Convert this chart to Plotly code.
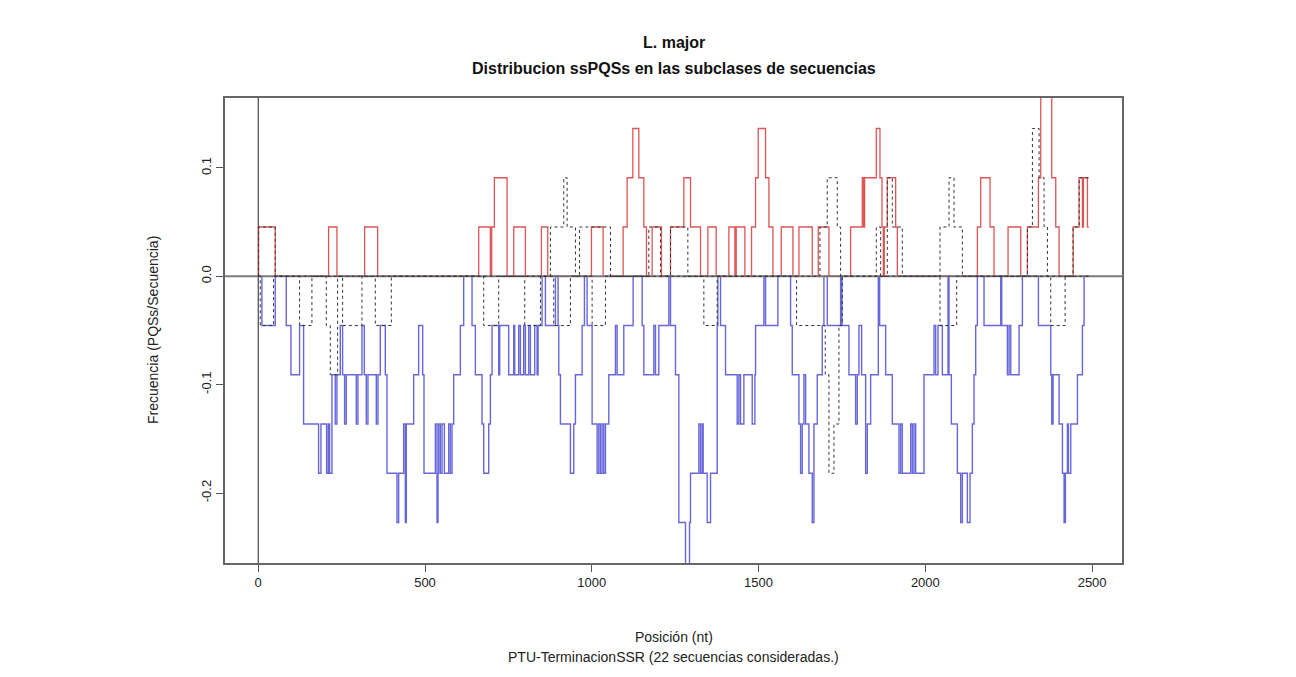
import plotly.graph_objects as go

N_SEQ = 22
X_END = 2490
# step breakpoints: (position nt, number of PQSs)
red_steps = [(0,0),(1,1),(51,0),(211,1),(236,0),(319,1),(358,0),(661,1),(696,0),(700,1),(708,2),(746,0),
             (766,1),(801,0),(849,1),(868,0),(999,1),(1034,0),(1094,1),(1106,2),(1123,3),(1141,2),(1156,1),
             (1164,0),(1181,1),(1209,0),(1236,1),(1276,2),(1296,1),(1326,0),(1348,1),(1373,0),(1411,1),
             (1429,0),(1433,1),(1459,0),(1479,1),(1491,2),(1499,3),(1521,2),(1531,1),(1543,0),(1568,1),
             (1603,0),(1621,1),(1661,0),(1679,1),(1711,0),(1776,1),(1811,2),(1815,1),(1818,2),(1853,3),
             (1864,2),(1870,1),(1874,0),(1877,1),(1886,2),(1911,1),(1916,0),(2156,1),(2166,2),(2194,1),
             (2206,0),(2248,1),(2286,0),(2306,1),(2339,2),(2346,4),(2379,2),(2391,1),(2401,0),(2443,1),
             (2461,2),(2471,1),(2474,2),(2486,1)]

blue_steps = [(0,0),(11,1),(51,0),(84,1),(98,2),(124,1),(136,3),(181,4),(188,3),(205,4),(210,3),(214,4),
              (221,2),(231,3),(236,2),(246,1),(253,2),(259,3),(264,2),(294,3),(299,2),(311,1),(318,2),
              (324,3),(329,2),(354,3),(359,2),(366,1),(381,2),(386,4),(416,5),(421,4),(436,3),(441,5),
              (444,3),(466,2),(481,1),(493,2),(497,4),(531,3),(536,5),(539,4),(541,3),(546,4),(551,3),
              (558,4),(571,3),(576,4),(581,3),(586,2),(606,1),(616,0),(641,1),(651,2),(671,3),(676,4),
              (691,3),(696,2),(701,1),(721,2),(724,1),(751,2),(766,1),(769,2),(781,1),(786,2),(796,1),
              (801,2),(811,1),(816,2),(829,1),(836,2),(839,1),(851,0),(861,1),(891,0),(899,1),(901,2),
              (906,3),(936,4),(946,3),(951,2),(971,1),(978,0),(986,1),(1001,3),(1016,4),(1021,3),(1026,4),
              (1031,3),(1036,4),(1041,3),(1051,2),(1071,1),(1076,2),(1096,1),(1124,0),(1151,1),(1156,2),
              (1186,1),(1191,2),(1201,1),(1231,0),(1236,1),(1251,2),(1261,5),(1281,6),(1293,5),(1296,4),
              (1321,3),(1326,4),(1331,3),(1334,4),(1346,5),(1356,4),(1376,1),(1378,0),(1386,1),(1401,2),
              (1436,3),(1441,2),(1446,3),(1456,2),(1481,3),(1489,2),(1491,1),(1516,0),(1521,1),(1558,0),
              (1596,1),(1601,2),(1621,3),(1626,4),(1631,3),(1636,2),(1641,3),(1651,4),(1661,5),(1666,3),
              (1676,2),(1691,1),(1696,0),(1706,1),(1746,0),(1750,1),(1771,2),(1791,3),(1796,2),(1801,1),
              (1809,2),(1821,4),(1826,3),(1836,2),(1859,0),(1863,1),(1881,2),(1901,3),(1921,4),(1926,3),
              (1931,4),(1956,3),(1961,4),(1966,3),(1971,4),(1996,2),(2026,1),(2031,2),(2038,1),(2051,2),
              (2068,0),(2071,2),(2078,3),(2096,4),(2106,5),(2111,4),(2126,5),(2134,4),(2141,3),(2146,2),
              (2151,1),(2156,0),(2176,1),(2226,0),(2229,1),(2246,2),(2251,1),(2256,2),(2281,1),(2291,0),
              (2339,1),(2376,2),(2379,3),(2383,2),(2401,3),(2411,4),(2416,5),(2420,4),(2426,3),(2429,4),
              (2436,3),(2456,2),(2471,1),(2476,0)]

dot_pos_steps = [(0,0),(1,1),(51,0),(876,1),(916,2),(926,1),(951,0),(963,1),(1056,0),(1171,1),(1206,0),
                 (1236,1),(1288,0),(1684,1),(1706,2),(1736,1),(1746,0),(1853,1),(1866,0),(1886,2),(1901,1),
                 (1931,0),(2044,1),(2071,2),(2086,1),(2111,0),(2306,1),(2321,3),(2341,2),(2356,1),(2366,0),
                 (2443,1),(2461,2)]

dot_neg_steps = [(0,0),(6,1),(46,0),(124,1),(161,0),(204,1),(216,2),(238,0),(253,1),(311,0),(351,1),(399,0),
                 (676,1),(721,0),(799,1),(846,0),(886,1),(936,0),(1001,1),(1041,0),(1336,1),(1376,0),
                 (1614,1),(1700,2),(1711,4),(1726,3),(1741,1),(1751,0),(2044,1),(2094,0),(2376,1),(2419,0)]

x_ticks = [0, 500, 1000, 1500, 2000, 2500]
y_ticks = [-0.2, -0.1, 0.0, 0.1]
y_tick_text = ["-0.2", "-0.1", "0.0", "0.1"]

W, H = 1296, 677
L, R, T, B = 225, 174, 98, 114
pad = 0.04 * X_END
x_range = [-pad, X_END + pad]
y_range = [-0.2646, 0.1645]


def series(steps, sign):
    xs = [s[0] for s in steps] + [X_END]
    ys = [sign * s[1] / N_SEQ for s in steps]
    ys.append(ys[-1])
    return xs, ys


fig = go.Figure()
for steps, sign, color, width in [
    (red_steps, 1, "rgba(215,55,55,0.85)", 1.3),
    (blue_steps, -1, "rgba(45,45,205,0.72)", 1.4),
]:
    xs, ys = series(steps, sign)
    fig.add_trace(go.Scatter(x=xs, y=ys, mode="lines", line=dict(color=color, width=width, shape="hv"),
                             hoverinfo="skip", showlegend=False))

# horizontal reference at zero
fig.add_trace(go.Scatter(x=x_range, y=[0, 0], mode="lines", line=dict(color="rgba(110,110,110,0.9)", width=2),
                         hoverinfo="skip", showlegend=False))

for steps, sign in [(dot_pos_steps, 1), (dot_neg_steps, -1)]:
    xs, ys = series(steps, sign)
    fig.add_trace(go.Scatter(x=xs, y=ys, mode="lines", line=dict(color="#333", width=1, dash="dot", shape="hv"),
                             hoverinfo="skip", showlegend=False))

fig.add_shape(type="line", xref="x", yref="paper", x0=0, x1=0, y0=0, y1=1,
              line=dict(color="#222", width=1), layer="below")

font = "Liberation Sans, Arial, sans-serif"
ph = H - T - B
pw = W - L - R


def py(p):
    return (H - B - p) / ph


def px(p):
    return (p - L) / pw


fig.update_layout(
    width=W, height=H,
    margin=dict(l=L, r=R, t=T, b=B),
    paper_bgcolor="white", plot_bgcolor="white",
    font=dict(family=font, color="#222"),
    xaxis=dict(range=x_range, tickvals=x_ticks, ticks="outside", ticklen=7, tickcolor="#555",
               showgrid=False, zeroline=False, showline=True, linecolor="#666", linewidth=1.5, mirror=True,
               tickfont=dict(size=13, color="#222")),
    yaxis=dict(range=y_range, tickvals=y_ticks, ticktext=y_tick_text, ticks="outside", ticklen=7,
               tickcolor="#555", tickangle=-90, showgrid=False, zeroline=False, showline=True,
               linecolor="#666", linewidth=1.5, mirror=True, tickfont=dict(size=13, color="#222")),
    annotations=[
        dict(text="<b>L. major</b>", x=0.5, y=py(42), xref="paper", yref="paper", showarrow=False,
             font=dict(size=16, color="#111"), yanchor="middle"),
        dict(text="<b>Distribucion ssPQSs en las subclases de secuencias</b>", x=0.5, y=py(68), xref="paper",
             yref="paper", showarrow=False, font=dict(size=16, color="#111"), yanchor="middle"),
        dict(text="Posición (nt)", x=0.5, y=py(637), xref="paper", yref="paper", showarrow=False,
             font=dict(size=14, color="#222"), yanchor="middle"),
        dict(text="PTU-TerminacionSSR (22 secuencias consideradas.)", x=0.5, y=py(657), xref="paper",
             yref="paper", showarrow=False, font=dict(size=14, color="#222"), yanchor="middle"),
        dict(text="Frecuencia (PQSs/Secuencia)", x=px(153), y=py(330), xref="paper", yref="paper",
             showarrow=False, textangle=-90, font=dict(size=14, color="#222"), xanchor="center",
             yanchor="middle"),
    ],
)

fig.write_html("out.html")
